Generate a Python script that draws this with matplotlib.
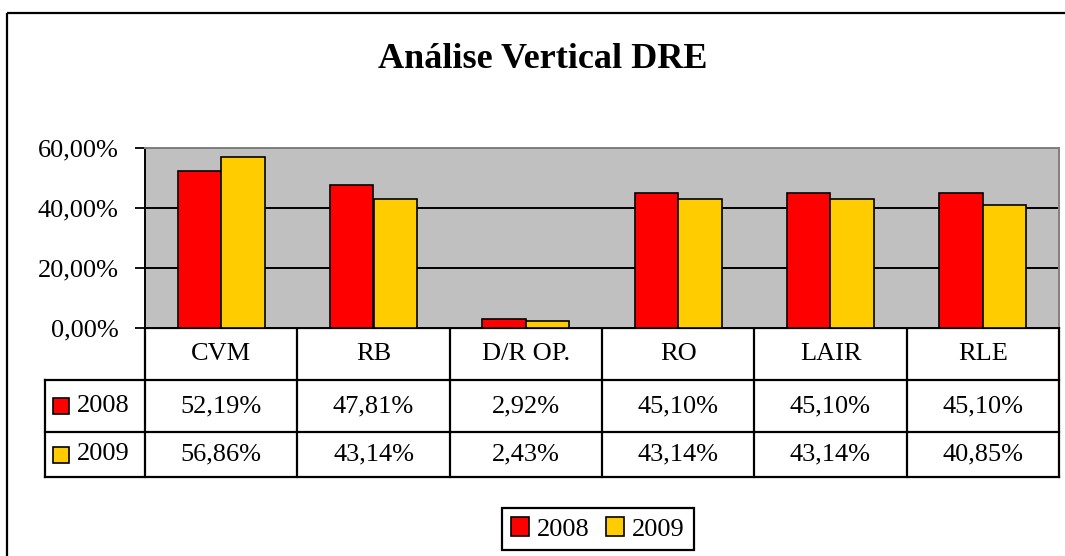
import matplotlib
matplotlib.use('Agg')
import matplotlib.pyplot as plt
from matplotlib.patches import Rectangle

# dados
categorias = ['CVM', 'RB', 'D/R OP.', 'RO', 'LAIR', 'RLE']
anos = ['2008', '2009']
valores_2008 = [52.19, 47.81, 2.92, 45.10, 45.10, 45.10]
valores_2009 = [56.86, 43.14, 2.43, 43.14, 43.14, 40.85]
yticks = [0, 20, 40, 60]

cores = ['#FF0000', '#FFCC00']
W, H = 1065, 556
fs = 19

plt.rcParams['font.family'] = ['Liberation Serif', 'DejaVu Serif']

fig = plt.figure(figsize=(W / 100, H / 100), dpi=100)


def caixa(x0, y0, x1, y1):
    # pixel (topo-esquerda) -> fração da figura
    return [x0 / W, 1 - y1 / H, (x1 - x0) / W, (y1 - y0) / H]


# camada de fundo para bordas e tabela
ov = fig.add_axes([0, 0, 1, 1])
ov.set_xlim(0, W)
ov.set_ylim(H, 0)
ov.axis('off')
ov.add_patch(Rectangle((7, 13), W + 20, H + 20, fill=False, lw=1.6, ec='black'))

# área do gráfico
px0, px1, py0, py1 = 145, 1059, 148, 328
ax = fig.add_axes(caixa(px0, py0, px1, py1))
ax.set_facecolor('#C0C0C0')
x = list(range(len(categorias)))
w = 0.285
b1 = ax.bar([i - w / 2 for i in x], valores_2008, w, color=cores[0],
            edgecolor='black', lw=1.2, label=anos[0], zorder=3)
b2 = ax.bar([i + w / 2 for i in x], valores_2009, w, color=cores[1],
            edgecolor='black', lw=1.2, label=anos[1], zorder=3)
ax.set_xlim(-0.5, len(categorias) - 0.5)
ax.set_ylim(0, 60)
ax.set_yticks(yticks)
ax.set_yticklabels([f'{v:.2f}%'.replace('.', ',') for v in yticks], fontsize=fs)
ax.set_xticks([])
ax.tick_params(axis='y', direction='out', length=7, width=1.3, pad=12)
for g in yticks[1:]:
    ax.axhline(g, color='black', lw=1.4, zorder=1)
for s in ['top', 'right']:
    ax.spines[s].set_color('#808080')
for s in ax.spines.values():
    s.set_linewidth(1.4)

fig.text(543 / W, 1 - 60 / H, 'Análise Vertical DRE', fontsize=26,
         fontweight='bold', ha='center', va='center')

# tabela de dados
tx0 = 45
colw = (px1 - px0) / len(categorias)
linhas = [328, 380, 432, 477]
lw = 1.6
ov.plot([px0, px1], [linhas[0], linhas[0]], color='black', lw=lw)
for yy in linhas[1:]:
    ov.plot([tx0, px1], [yy, yy], color='black', lw=lw)
ov.plot([tx0, tx0], [linhas[1], linhas[3]], color='black', lw=lw)
for i in range(len(categorias) + 1):
    ov.plot([px0 + i * colw] * 2, [linhas[0], linhas[3]], color='black', lw=lw)

for i, cat in enumerate(categorias):
    cx = px0 + (i + 0.5) * colw
    ov.text(cx, (linhas[0] + linhas[1]) / 2, cat, fontsize=fs,
            ha='center', va='center')
    for r, serie in enumerate([valores_2008, valores_2009]):
        ov.text(cx, (linhas[r + 1] + linhas[r + 2]) / 2,
                f'{serie[i]:.2f}%'.replace('.', ','), fontsize=fs,
                ha='center', va='center')

for r, ano in enumerate(anos):
    cy = (linhas[r + 1] + linhas[r + 2]) / 2
    ov.add_patch(Rectangle((53, cy - 8), 16, 16, fc=cores[r], ec='black', lw=1.2))
    ov.text(77, cy, ano, fontsize=fs, ha='left', va='center')

# legenda
leg = fig.legend(handles=[b1, b2], loc='center',
                 bbox_to_anchor=(598 / W, 1 - 529 / H), ncol=2, fontsize=fs,
                 frameon=True, fancybox=False, edgecolor='black', framealpha=1,
                 handlelength=0.7, handleheight=0.7, handletextpad=0.3,
                 columnspacing=0.6, borderpad=0.35, borderaxespad=0)
leg.get_frame().set_linewidth(1.6)

fig.savefig('out.png', dpi=100)
